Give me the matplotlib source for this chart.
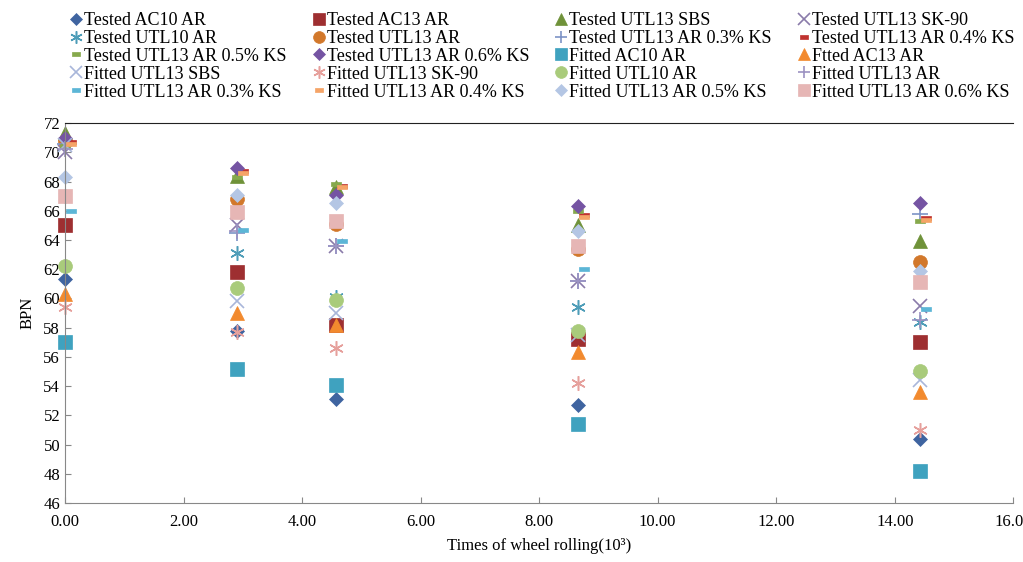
import matplotlib
matplotlib.use("Agg")
import matplotlib.pyplot as plt
import numpy as np

plt.rcParams['font.family'] = ['Liberation Serif', 'DejaVu Serif']

# wheel rolling times (10^3); dash-marker series sit slightly to the right
x_main = [0.0, 2.9, 4.57, 8.66, 14.42]
x_dash = [0.1, 3.0, 4.67, 8.76, 14.52]

labels = [
    "Tested AC10 AR", "Tested AC13 AR", "Tested UTL13 SBS", "Tested UTL13 SK-90",
    "Tested UTL10 AR", "Tested UTL13 AR", "Tested UTL13 AR 0.3% KS", "Tested UTL13 AR 0.4% KS",
    "Tested UTL13 AR 0.5% KS", "Tested UTL13 AR 0.6% KS", "Fitted AC10 AR", "Ftted AC13 AR",
    "Fitted UTL13 SBS", "Fitted UTL13 SK-90", "Fitted UTL10 AR", "Fitted UTL13 AR",
    "Fitted UTL13 AR 0.3% KS", "Fitted UTL13 AR 0.4% KS", "Fitted UTL13 AR 0.5% KS", "Fitted UTL13 AR 0.6% KS",
]

# BPN values
tested_ac10 = [61.3, 57.8, 53.1, 52.7, 50.4]
tested_ac13 = [65.0, 61.8, 58.2, 57.2, 57.0]
tested_utl13_sbs = [71.3, 68.4, 67.6, 65.0, 63.9]
tested_utl13_sk90 = [70.0, 65.0, 63.6, 61.2, 59.5]
tested_utl10 = [67.0, 63.1, 60.1, 59.4, 58.4]
tested_utl13 = [70.8, 66.8, 65.1, 63.4, 62.5]
tested_ks03 = [70.6, 64.5, 63.6, 61.2, 65.8]
tested_ks04 = [70.7, 68.7, 67.7, 65.7, 65.5]
tested_ks05 = [70.4, 68.3, 67.8, 66.0, 65.3]
tested_ks06 = [71.0, 68.9, 67.1, 66.3, 66.5]
fitted_ac10 = [57.0, 55.2, 54.1, 51.4, 48.2]
fitted_ac13 = [60.3, 59.0, 58.2, 56.3, 53.6]
fitted_utl13_sbs = [70.5, 59.8, 59.0, 57.5, 54.4]
fitted_utl13_sk90 = [59.4, 57.7, 56.6, 54.2, 51.0]
fitted_utl10 = [62.2, 60.7, 59.9, 57.8, 55.0]
fitted_utl13 = [70.2, 64.6, 63.6, 61.2, 58.5]
fitted_ks03 = [66.0, 64.7, 63.9, 62.0, 59.3]
fitted_ks04 = [70.6, 68.6, 67.6, 65.6, 65.4]
fitted_ks05 = [68.3, 67.1, 66.5, 64.6, 61.9]
fitted_ks06 = [67.0, 65.9, 65.3, 63.6, 61.1]

series = [tested_ac10, tested_ac13, tested_utl13_sbs, tested_utl13_sk90,
          tested_utl10, tested_utl13, tested_ks03, tested_ks04,
          tested_ks05, tested_ks06, fitted_ac10, fitted_ac13,
          fitted_utl13_sbs, fitted_utl13_sk90, fitted_utl10, fitted_utl13,
          fitted_ks03, fitted_ks04, fitted_ks05, fitted_ks06]

dash = [(-1, -0.4), (1, -0.4), (1, 0.4), (-1, 0.4), (-1, -0.4)]

# (marker, colour, size, uses dash x)
styles = [
    ('D', '#3F64A0', 7.5, False),
    ('s', '#9E2F31', 9.5, False),
    ('^', '#6F9239', 10, False),
    ('x', '#8A7BAA', 10, False),
    ('*', '#4E9DB8', 11, False),
    ('o', '#D2782B', 10, False),
    ('+', '#7D93C6', 11, False),
    (dash, '#C0332F', 7, True),
    (dash, '#86A94C', 7, False),
    ('D', '#7554A3', 7.5, False),
    ('s', '#3FA2BF', 9.5, False),
    ('^', '#F28A2E', 10, False),
    ('x', '#A8B6DA', 10, False),
    ('*', '#E6A09C', 11, False),
    ('o', '#A9CB7B', 10, False),
    ('+', '#9C92C2', 11, False),
    (dash, '#5CB6D6', 7, True),
    (dash, '#F5A467', 7, True),
    ('D', '#B4C6E4', 7.5, False),
    ('s', '#E6B6B5', 9.5, False),
]

fig = plt.figure(figsize=(10.23, 5.62), dpi=100)
ax = fig.add_axes([0.0635, 0.105, 0.927, 0.676])

handles = []
for vals, (mk, col, ms, off), lab in zip(series, styles, labels):
    xs = x_dash if off else x_main
    if mk == '*':
        h, = ax.plot(xs, vals, linestyle='none', marker=(6, 2, 0), markersize=ms * 0.95,
                     markeredgecolor=col, markeredgewidth=1.1, label=lab, clip_on=False)
    elif mk in ('x', '+'):
        h, = ax.plot(xs, vals, linestyle='none', marker=mk, markersize=ms,
                     markeredgecolor=col, markeredgewidth=1.2, label=lab, clip_on=False)
    else:
        h, = ax.plot(xs, vals, linestyle='none', marker=mk, markersize=ms,
                     markerfacecolor=col, markeredgecolor=col, markeredgewidth=0.5,
                     label=lab, clip_on=False)
    handles.append(h)

ax.set_xlim(0, 16)
ax.set_ylim(46, 72)
ax.set_xticks(np.arange(0, 16.1, 2))
ax.set_xticklabels([f"{v:.2f}" for v in np.arange(0, 16.1, 2)])
ax.set_yticks(np.arange(46, 72.1, 2))
ax.tick_params(direction='in', labelsize=12, length=4, color='#888888')
ax.tick_params(axis='x', pad=8)
for side in ('left', 'bottom'):
    ax.spines[side].set_color('#888888')
ax.spines['top'].set_color('#222222')
ax.spines['right'].set_visible(False)
ax.set_ylabel("BPN", fontsize=12, labelpad=6)
ax.set_xlabel("Times of wheel rolling(10\u00b3)", fontsize=12, labelpad=6)

# legend is read row by row, matplotlib fills columns first
nrow, ncol = 5, 4
order = [r * ncol + c for c in range(ncol) for r in range(nrow)]
fig.legend([handles[i] for i in order], [labels[i] for i in order],
           loc='upper left', bbox_to_anchor=(0.058, 0.998), ncol=ncol,
           frameon=False, fontsize=13, handlelength=0.65, handletextpad=0.12,
           labelspacing=0.05, columnspacing=1.45, borderaxespad=0.2,
           markerscale=0.85)

fig.savefig("out.png", dpi=100)
